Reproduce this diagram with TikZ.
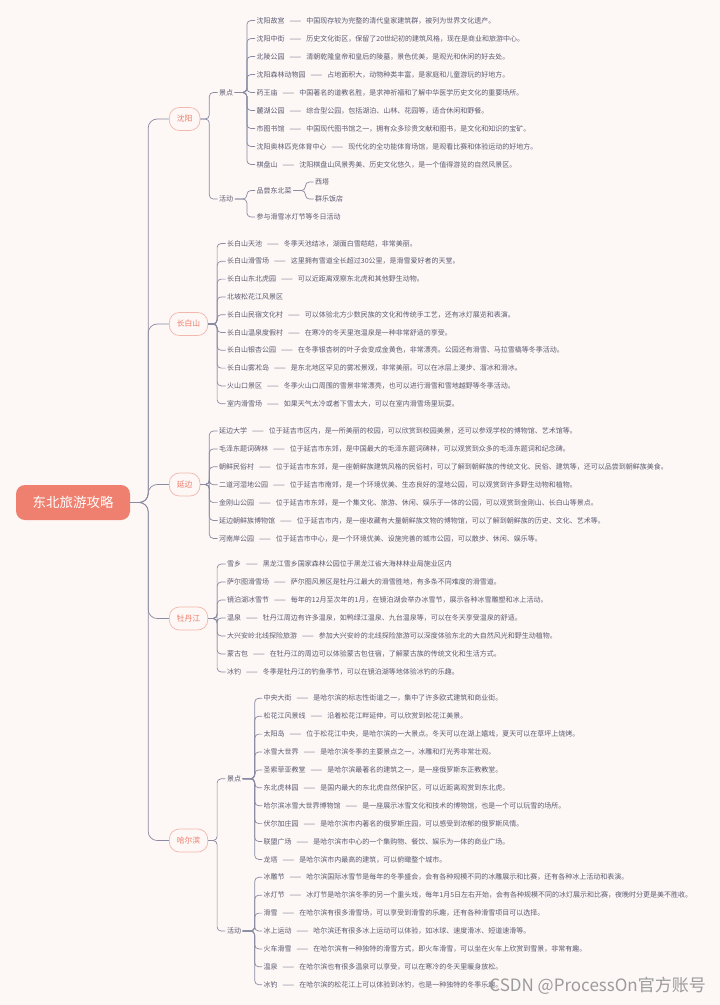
\documentclass[tikz,border=0pt]{standalone}
\usepackage{fontspec}
\setmainfont{Noto Sans CJK SC}
\definecolor{bgc}{HTML}{FDF7F6}
\definecolor{txtc}{HTML}{5B5B70}
\definecolor{linec}{HTML}{8A8AA3}
\definecolor{cityc}{HTML}{EE7B67}
\definecolor{cityline}{HTML}{F3B7AC}
\definecolor{rootc}{HTML}{EF806F}
\definecolor{wmc}{HTML}{9C9C9C}
\newcommand{\spotdash}{\hspace{5pt}——\hspace{5pt}}
\tikzset{
  topic/.style={fill=rootc, rounded corners=9pt, text=white, font=\fontsize{13.5}{16}\selectfont, minimum width=114pt, minimum height=35pt},
  city/.style={draw=cityline, fill=bgc, line width=0.7pt, rounded corners=10pt, text=cityc, font=\fontsize{7.8}{9}\selectfont, minimum height=23pt, inner xsep=7.5pt, anchor=west},
  grp/.style={text=txtc, font=\fontsize{7}{8}\selectfont, inner sep=1.5pt, anchor=west},
  spot/.style={grp},
  br/.style={draw=linec, line width=0.7pt, rounded corners=4pt},
  trunk/.style={br, rounded corners=9pt}
}
\begin{document}
\begin{tikzpicture}[x=1pt, y=-1pt]
  \fill[bgc] (0,0) rectangle (720,1005);
  \useasboundingbox (0,0) rectangle (720,1005);
  \node[topic] (root) at (73,502.5) {东北旅游攻略};
  \node[city] (sy) at (169,119) {沈阳};
  \node[city] (cbs) at (169,324) {长白山};
  \node[city] (yb) at (169,484.5) {延边};
  \node[city] (mdj) at (169,618.5) {牡丹江};
  \node[city] (heb) at (169,840.5) {哈尔滨};
  % shenyang
  \node[grp] (syjd) at (217.5,92.5) {景点};
  \node[grp] (syhd) at (217.5,199) {活动};
  \node[spot] (sy1) at (255,20.5) {沈阳故宫\spotdash 中国现存较为完整的清代皇家建筑群，被列为世界文化遗产。};
  \node[spot] (sy2) at (255,38.5) {沈阳中街\spotdash 历史文化街区，保留了20世纪初的建筑风格，现在是商业和旅游中心。};
  \node[spot] (sy3) at (255,56.5) {北陵公园\spotdash 清朝乾隆皇帝和皇后的陵墓，景色优美，是观光和休闲的好去处。};
  \node[spot] (sy4) at (255,74.5) {沈阳森林动物园\spotdash 占地面积大，动物种类丰富，是家庭和儿童游玩的好地方。};
  \node[spot] (sy5) at (255,92.5) {药王庙\spotdash 中国著名的道教名胜，是求神祈福和了解中华医学历史文化的重要场所。};
  \node[spot] (sy6) at (255,110.5) {麓湖公园\spotdash 综合型公园，包括湖泊、山林、花园等，适合休闲和野餐。};
  \node[spot] (sy7) at (255,128.5) {市图书馆\spotdash 中国现代图书馆之一，拥有众多珍贵文献和图书，是文化和知识的宝矿。};
  \node[spot] (sy8) at (255,146.5) {沈阳奥林匹克体育中心\spotdash 现代化的全功能体育场馆，是观看比赛和体验运动的好地方。};
  \node[spot] (sy9) at (255,164.5) {棋盘山\spotdash 沈阳棋盘山风景秀美、历史文化悠久，是一个值得游览的自然风景区。};
  \node[spot] (syhd1) at (255,190.5) {品尝东北菜};
  \node[spot] (syhd2) at (255,217) {参与滑雪冰灯节等冬日活动};
  \node[spot] (cai1) at (313.5,182) {西塔};
  \node[spot] (cai2) at (313.5,199) {群乐饭店};
  % changbaishan
  \node[spot] (cbs1) at (225.5,243.5) {长白山天池\spotdash 冬季天池结冰，湖面白雪皑皑，非常美丽。};
  \node[spot] (cbs2) at (225.5,261.3) {长白山滑雪场\spotdash 这里拥有雪道全长超过30公里，是滑雪爱好者的天堂。};
  \node[spot] (cbs3) at (225.5,279.1) {长白山东北虎园\spotdash 可以近距离观察东北虎和其他野生动物。};
  \node[spot] (cbs4) at (225.5,296.9) {北坡松花江风景区};
  \node[spot] (cbs5) at (225.5,314.7) {长白山民宿文化村\spotdash 可以体验北方少数民族的文化和传统手工艺，还有冰灯展览和表演。};
  \node[spot] (cbs6) at (225.5,332.5) {长白山温泉度假村\spotdash 在寒冷的冬天里泡温泉是一种非常舒适的享受。};
  \node[spot] (cbs7) at (225.5,350.3) {长白山银杏公园\spotdash 在冬季银杏树的叶子会变成金黄色，非常漂亮。公园还有滑雪、马拉雪橇等冬季活动。};
  \node[spot] (cbs8) at (225.5,368.1) {长白山雾凇岛\spotdash 是东北地区罕见的雾凇景观，非常美丽。可以在冰层上漫步、溜冰和滑冰。};
  \node[spot] (cbs9) at (225.5,385.9) {火山口景区\spotdash 冬季火山口周围的雪景非常漂亮，也可以进行滑雪和雪地越野等冬季活动。};
  \node[spot] (cbs10) at (225.5,403.7) {室内滑雪场\spotdash 如果天气太冷或者下雪太大，可以在室内滑雪场里玩耍。};
  % yanbian
  \node[spot] (yb1) at (217.5,431) {延边大学\spotdash 位于延吉市区内，是一所美丽的校园，可以欣赏到校园美景，还可以参观学校的博物馆、艺术馆等。};
  \node[spot] (yb2) at (217.5,448.9) {毛泽东题词碑林\spotdash 位于延吉市东郊，是中国最大的毛泽东题词碑林，可以观赏到众多的毛泽东题词和纪念碑。};
  \node[spot] (yb3) at (217.5,466.8) {朝鲜民俗村\spotdash 位于延吉市东郊，是一座朝鲜族建筑风格的民俗村，可以了解到朝鲜族的传统文化、民俗、建筑等，还可以品尝到朝鲜族美食。};
  \node[spot] (yb4) at (217.5,484.7) {二道河湿地公园\spotdash 位于延吉市南郊，是一个环境优美、生态良好的湿地公园，可以观赏到许多野生动物和植物。};
  \node[spot] (yb5) at (217.5,502.6) {金刚山公园\spotdash 位于延吉市东郊，是一个集文化、旅游、休闲、娱乐于一体的公园，可以观赏到金刚山、长白山等景点。};
  \node[spot] (yb6) at (217.5,520.5) {延边朝鲜族博物馆\spotdash 位于延吉市内，是一座收藏有大量朝鲜族文物的博物馆，可以了解到朝鲜族的历史、文化、艺术等。};
  \node[spot] (yb7) at (217.5,538.4) {河南岸公园\spotdash 位于延吉市中心，是一个环境优美、设施完善的城市公园，可以散步、休闲、娱乐等。};
  % mudanjiang
  \node[spot] (mdj1) at (225.5,564) {雪乡\spotdash 黑龙江雪乡国家森林公园位于黑龙江省大海林林业局施业区内};
  \node[spot] (mdj2) at (225.5,582) {萨尔图滑雪场\spotdash 萨尔图风景区是牡丹江最大的滑雪胜地，有多条不同难度的滑雪道。};
  \node[spot] (mdj3) at (225.5,600) {镜泊湖冰雪节\spotdash 每年的12月至次年的1月，在镜泊湖会举办冰雪节，展示各种冰雪雕塑和冰上活动。};
  \node[spot] (mdj4) at (225.5,618) {温泉\spotdash 牡丹江周边有许多温泉，如鸭绿江温泉、九台温泉等，可以在冬天享受温泉的舒适。};
  \node[spot] (mdj5) at (225.5,636) {大兴安岭北线探险旅游\spotdash 参加大兴安岭的北线探险旅游可以深度体验东北的大自然风光和野生动植物。};
  \node[spot] (mdj6) at (225.5,654) {蒙古包\spotdash 在牡丹江的周边可以体验蒙古包住宿，了解蒙古族的传统文化和生活方式。};
  \node[spot] (mdj7) at (225.5,672) {冰钓\spotdash 冬季是牡丹江的钓鱼季节，可以在镜泊湖等地体验冰钓的乐趣。};
  % harbin
  \node[grp] (hebjd) at (225.3,778.8) {景点};
  \node[grp] (hebhd) at (225.3,931) {活动};
  \node[spot] (heb1) at (262,698.3) {中央大街\spotdash 是哈尔滨的标志性街道之一，集中了许多欧式建筑和商业街。};
  \node[spot] (heb2) at (262,716.2) {松花江风景线\spotdash 沿着松花江畔延伸，可以欣赏到松花江美景。};
  \node[spot] (heb3) at (262,734.1) {太阳岛\spotdash 位于松花江中央，是哈尔滨的一大景点。冬天可以在湖上嬉戏，夏天可以在草坪上烧烤。};
  \node[spot] (heb4) at (262,752) {冰雪大世界\spotdash 是哈尔滨冬季的主要景点之一，冰雕和灯光秀非常壮观。};
  \node[spot] (heb5) at (262,769.9) {圣索菲亚教堂\spotdash 是哈尔滨最著名的建筑之一，是一座俄罗斯东正教教堂。};
  \node[spot] (heb6) at (262,787.8) {东北虎林园\spotdash 是国内最大的东北虎自然保护区，可以近距离观赏到东北虎。};
  \node[spot] (heb7) at (262,805.7) {哈尔滨冰雪大世界博物馆\spotdash 是一座展示冰雪文化和技术的博物馆，也是一个可以玩雪的场所。};
  \node[spot] (heb8) at (262,823.6) {伏尔加庄园\spotdash 是哈尔滨市内著名的俄罗斯庄园，可以感受到浓郁的俄罗斯风情。};
  \node[spot] (heb9) at (262,841.5) {联盟广场\spotdash 是哈尔滨市中心的一个集购物、餐饮、娱乐为一体的商业广场。};
  \node[spot] (heb10) at (262,859.4) {龙塔\spotdash 是哈尔滨市内最高的建筑，可以俯瞰整个城市。};
  \node[spot] (hebh1) at (262,877.3) {冰雕节\spotdash 哈尔滨国际冰雪节是每年的冬季盛会，会有各种规模不同的冰雕展示和比赛，还有各种冰上活动和表演。};
  \node[spot] (hebh2) at (262,895.2) {冰灯节\spotdash 冰灯节是哈尔滨冬季的另一个重头戏，每年1月5日左右开始，会有各种规模不同的冰灯展示和比赛，夜晚时分更是美不胜收。};
  \node[spot] (hebh3) at (262,913.1) {滑雪\spotdash 在哈尔滨有很多滑雪场，可以享受到滑雪的乐趣，还有各种滑雪项目可以选择。};
  \node[spot] (hebh4) at (262,931) {冰上运动\spotdash 哈尔滨还有很多冰上运动可以体验，如冰球、速度滑冰、短道速滑等。};
  \node[spot] (hebh5) at (262,948.9) {火车滑雪\spotdash 在哈尔滨有一种独特的滑雪方式，即火车滑雪，可以坐在火车上欣赏到雪景，非常有趣。};
  \node[spot] (hebh6) at (262,966.8) {温泉\spotdash 在哈尔滨也有很多温泉可以享受，可以在寒冷的冬天里暖身放松。};
  \node[spot] (hebh7) at (262,984.7) {冰钓\spotdash 在哈尔滨的松花江上可以体验到冰钓，也是一种独特的冬季乐趣。};
  \node[anchor=east, text=wmc, font=\fontsize{17}{20}\selectfont, inner sep=0pt] (wm) at (706,986) {CSDN @ProcessOn官方账号};
  % connectors
  \foreach \c in {sy,cbs,yb,mdj,heb} \draw[trunk] (root.east) -- ++(18,0) |- (\c.west);
  \foreach \g in {syjd,syhd} \draw[br] (sy.east) -- ++(9,0) |- (\g.west);
  \foreach \i in {1,...,9} \draw[br] (syjd.east) -- ++(12,0) |- (sy\i.west);
  \foreach \i in {1,2} \draw[br] (syhd.east) -- ++(12,0) |- (syhd\i.west);
  \foreach \i in {1,2} \draw[br] (syhd1.east) -- ++(12,0) |- (cai\i.west);
  \foreach \i in {1,...,10} \draw[br] (cbs.east) -- ++(9,0) |- (cbs\i.west);
  \foreach \i in {1,...,7} \draw[br] (yb.east) -- ++(9,0) |- (yb\i.west);
  \foreach \i in {1,...,7} \draw[br] (mdj.east) -- ++(9,0) |- (mdj\i.west);
  \foreach \g in {hebjd,hebhd} \draw[br] (heb.east) -- ++(9,0) |- (\g.west);
  \foreach \i in {1,...,10} \draw[br] (hebjd.east) -- ++(12,0) |- (heb\i.west);
  \foreach \i in {1,...,7} \draw[br] (hebhd.east) -- ++(12,0) |- (hebh\i.west);
\end{tikzpicture}
\end{document}
